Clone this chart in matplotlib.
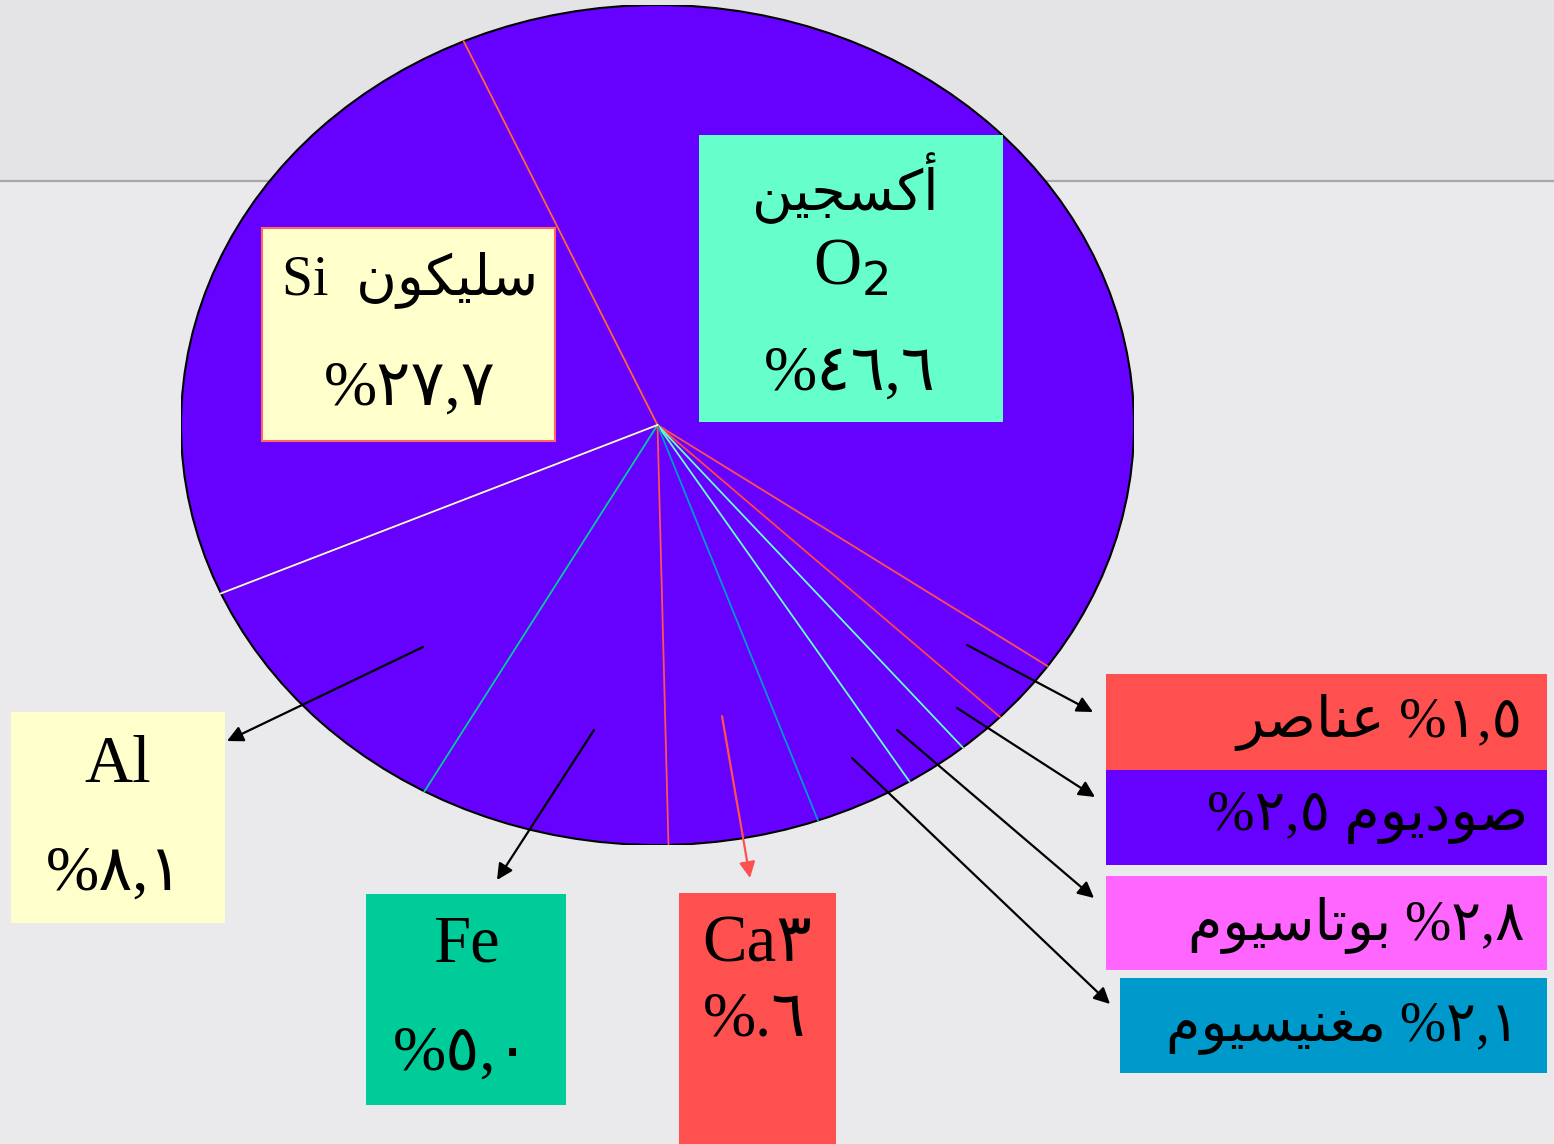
import numpy as np
import matplotlib
matplotlib.use("Agg")
import matplotlib.pyplot as plt
from matplotlib.patches import Rectangle, Circle

# slice order, clockwise from the upper-left line
elements = ["O2", "other", "Na", "K", "Mg", "Ca", "Fe", "Al", "Si"]
values = [46.6, 1.5, 2.5, 2.8, 2.1, 3.6, 5.0, 8.1, 27.7]
# the wedges as they are drawn in the picture (not proportional to the labels)
drawn_share = [41.4, 2.5, 1.7, 2.2, 3.4, 5.1, 8.5, 10.3, 24.9]
edge_colors = ["#FF6633", "#FF5050", "#FF4444", "#66FFCC", "#66FFCC",
               "#0099CC", "#FF5050", "#00CC99", "#FFFFCC"]
arabic_names = {"O2": "أكسجين", "Si": "سليكون", "other": "عناصر",
                "Na": "صوديوم", "K": "بوتاسيوم", "Mg": "مغنيسيوم"}

W, H = 1554, 1144
PURPLE = "#6600FF"
FONT = ["Liberation Serif", "DejaVu Sans"]

# minimal arabic shaping -> presentation forms, visual order (matplotlib has no RTL)
FORMS = {
    "ا": ("\uFE8D", "\uFE8E", None, None), "أ": ("\uFE83", "\uFE84", None, None),
    "ب": ("\uFE8F", "\uFE90", "\uFE91", "\uFE92"), "ت": ("\uFE95", "\uFE96", "\uFE97", "\uFE98"),
    "ج": ("\uFE9D", "\uFE9E", "\uFE9F", "\uFEA0"), "د": ("\uFEA9", "\uFEAA", None, None),
    "ر": ("\uFEAD", "\uFEAE", None, None), "س": ("\uFEB1", "\uFEB2", "\uFEB3", "\uFEB4"),
    "ص": ("\uFEB9", "\uFEBA", "\uFEBB", "\uFEBC"), "ع": ("\uFEC9", "\uFECA", "\uFECB", "\uFECC"),
    "غ": ("\uFECD", "\uFECE", "\uFECF", "\uFED0"), "ك": ("\uFED9", "\uFEDA", "\uFEDB", "\uFEDC"),
    "ل": ("\uFEDD", "\uFEDE", "\uFEDF", "\uFEE0"), "م": ("\uFEE1", "\uFEE2", "\uFEE3", "\uFEE4"),
    "ن": ("\uFEE5", "\uFEE6", "\uFEE7", "\uFEE8"), "و": ("\uFEED", "\uFEEE", None, None),
    "ي": ("\uFEF1", "\uFEF2", "\uFEF3", "\uFEF4"),
}

def shape(word):
    out = []
    for i, ch in enumerate(word):
        f = FORMS[ch]
        prev = i > 0 and FORMS[word[i - 1]][2] is not None
        nxt = i < len(word) - 1 and f[2] is not None
        if prev and nxt:
            out.append(f[3])
        elif prev:
            out.append(f[1])
        elif nxt:
            out.append(f[2])
        else:
            out.append(f[0])
    return "".join(reversed(out))

def ar_num(v):
    return ("%.1f" % v).translate(str.maketrans("0123456789.", "٠١٢٣٤٥٦٧٨٩,"))

val = dict(zip(elements, values))

fig = plt.figure(figsize=(W / 100, H / 100), dpi=100)
fig.patch.set_facecolor("#EAEAEC")

# background band + the grey rule behind the pie
bg = fig.add_axes([0, 0, 1, 1], zorder=0)
bg.set_xlim(0, W); bg.set_ylim(H, 0); bg.axis("off")
bg.add_patch(Rectangle((0, 0), W, 181, color="#E4E4E7", lw=0))
bg.plot([0, W], [181, 181], color="#A8A8A8", lw=1.6)

# pie, stretched into an ellipse
left, right, top, bottom = 181, 1134, 5, 845
ax = fig.add_axes([left / W, 1 - bottom / H, (right - left) / W, (bottom - top) / H], zorder=1)
wedges, _ = ax.pie(drawn_share, startangle=114, counterclock=False,
                   colors=[PURPLE] * len(drawn_share), radius=1,
                   wedgeprops=dict(linewidth=0))
ax.set_aspect("auto"); ax.set_xlim(-1, 1); ax.set_ylim(-1, 1)
ax.patch.set_alpha(0)
for w, c in zip(wedges, edge_colors):
    t = np.deg2rad(w.theta2)
    ax.plot([0, np.cos(t)], [0, np.sin(t)], color=c, lw=1.3)
ax.add_patch(Circle((0, 0), 1, fill=False, ec="black", lw=1.5))
ax.axis("off")

# boxes, labels and arrows in pixel coordinates
ov = fig.add_axes([0, 0, 1, 1], zorder=2)
ov.set_xlim(0, W); ov.set_ylim(H, 0); ov.axis("off"); ov.patch.set_alpha(0)

def box(x0, y0, x1, y1, fc, ec=None):
    ov.add_patch(Rectangle((x0, y0), x1 - x0, y1 - y0, fc=fc,
                           ec=ec if ec else fc, lw=1.5 if ec else 0))

def txt(x, y, s, ha="center", size=46):
    ov.text(x, y, s, ha=ha, va="center", fontsize=size, family=FONT, color="black")

box(699, 135, 1003, 422, "#66FFCC")
txt(845, 188, shape(arabic_names["O2"]), size=40)
txt(851, 268, "O$_2$", size=48)
txt(850, 375, "%" + ar_num(val["O2"]))

box(262, 228, 555, 441, "#FFFFCC", "#FF6666")
txt(410, 280, "Si  " + shape(arabic_names["Si"]), size=40)
txt(410, 390, "%" + ar_num(val["Si"]))

box(11, 712, 225, 923, "#FFFFCC")
txt(118, 765, "Al", size=48)
txt(115, 875, "%" + ar_num(val["Al"]))

box(366, 894, 566, 1105, "#00CC99")
txt(466, 945, "Fe", size=48)
txt(462, 1055, "%" + ar_num(val["Fe"]))

ca = ar_num(val["Ca"])
box(679, 893, 836, H + 5, "#FF5050")
txt(757, 945, "Ca" + ca[0], size=48)
txt(755, 1020, "%." + ca[-1])

box(1106, 674, 1547, 770, "#FF5050")
txt(1522, 722, shape(arabic_names["other"]) + " %" + ar_num(val["other"]), ha="right", size=41)
box(1106, 770, 1547, 865, PURPLE)
txt(1528, 818, "%" + ar_num(val["Na"]) + " " + shape(arabic_names["Na"]), ha="right", size=41)
box(1106, 876, 1547, 970, "#FF66FF")
txt(1525, 925, shape(arabic_names["K"]) + " %" + ar_num(val["K"]), ha="right", size=40)
box(1120, 978, 1547, 1073, "#0099CC")
txt(1520, 1028, shape(arabic_names["Mg"]) + " %" + ar_num(val["Mg"]), ha="right", size=40)

arrows = [((423, 647), (227, 741), "black"), ((594, 730), (497, 880), "black"),
          ((722, 716), (750, 878), "#FF5050"), ((967, 645), (1093, 712), "black"),
          ((957, 708), (1095, 797), "black"), ((897, 730), (1094, 898), "black"),
          ((852, 758), (1110, 1004), "black")]
for (x0, y0), (x1, y1), c in arrows:
    ov.annotate("", xy=(x1, y1), xytext=(x0, y0),
                arrowprops=dict(arrowstyle="-|>", color=c, lw=1.6, mutation_scale=24,
                                shrinkA=0, shrinkB=0))

fig.savefig("out.png", dpi=100)
